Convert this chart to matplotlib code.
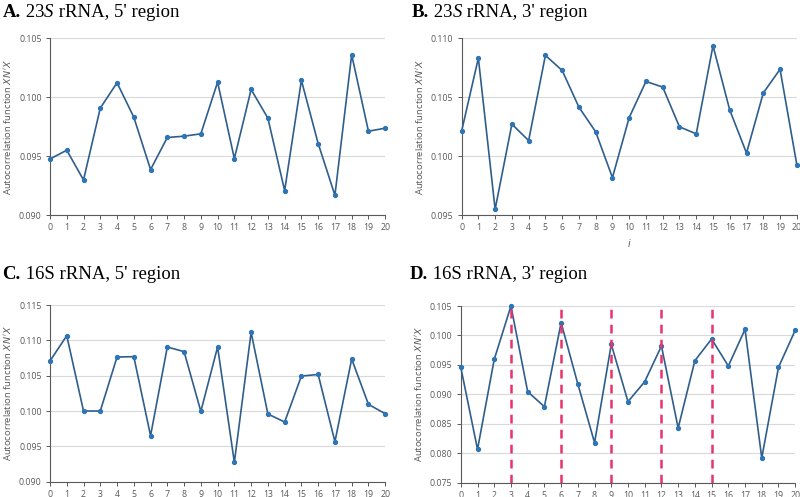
import matplotlib.pyplot as plt
import numpy as np

lags = np.arange(21)

acf_23s_5 = [0.09475, 0.09549, 0.09297, 0.09906, 0.10121, 0.09829, 0.09385, 0.09657, 0.09668, 0.09688,
             0.10126, 0.09478, 0.10064, 0.09821, 0.09207, 0.10141, 0.09606, 0.09167, 0.10358, 0.09710, 0.09736]
acf_23s_3 = [0.10210, 0.10830, 0.09548, 0.10270, 0.10131, 0.10853, 0.10725, 0.10414, 0.10205, 0.09817,
             0.10326, 0.10632, 0.10584, 0.10247, 0.10188, 0.10935, 0.10389, 0.10025, 0.10534, 0.10735, 0.09927]
acf_16s_5 = [0.10708, 0.11066, 0.10000, 0.10000, 0.10764, 0.10769, 0.09651, 0.10906, 0.10840, 0.09995,
             0.10906, 0.09274, 0.11113, 0.09958, 0.09844, 0.10495, 0.10517, 0.09566, 0.10736, 0.10094, 0.09962]
acf_16s_3 = [0.09458, 0.08066, 0.09594, 0.10500, 0.09045, 0.08791, 0.10217, 0.09175, 0.08179, 0.09849,
             0.08876, 0.09215, 0.09821, 0.08428, 0.09572, 0.09940, 0.09481, 0.10104, 0.07919, 0.09458, 0.10087]
period_marks = [3, 6, 9, 12, 15]

# letter, title pieces (text, italic), data, y ticks, axes rect, title position
panels = [
    ("A.", [(" 23", False), ("S", True), (" rRNA, 5' region", False)], acf_23s_5,
     [0.090, 0.095, 0.100, 0.105], [0.0625, 0.5674, 0.419, 0.3561], (0.003, 0.966)),
    ("B.", [(" 23", False), ("S", True), (" rRNA, 3' region", False)], acf_23s_3,
     [0.095, 0.100, 0.105, 0.110], [0.577, 0.5674, 0.419, 0.3561], (0.5145, 0.966)),
    ("C.", [(" 16S rRNA, 5' region", False)], acf_16s_5,
     [0.090, 0.095, 0.100, 0.105, 0.110, 0.115], [0.0625, 0.0308, 0.419, 0.3555], (0.003, 0.439)),
    ("D.", [(" 16S rRNA, 3' region", False)], acf_16s_3,
     [0.075, 0.080, 0.085, 0.090, 0.095, 0.100, 0.105], [0.576, 0.0288, 0.418, 0.3555], (0.5125, 0.439)),
]

plt.rcParams['mathtext.fontset'] = 'dejavusans'
fig = plt.figure(figsize=(8, 4.97), dpi=100)
renderer = fig.canvas.get_renderer()

line_color = '#2f5e8c'
gray = '#595959'
title_font = 'Liberation Serif'
title_size = 13.5

for letter, pieces, vals, yt, rect, tpos in panels:
    ax = fig.add_axes(rect)
    ax.plot(lags, vals, color=line_color, lw=1.2, marker='o', ms=2.8,
            mfc='#2e75b6', mec='#2e75b6', clip_on=False, zorder=3)
    if letter == "D.":
        for p in period_marks:
            ax.plot([p, p], [yt[0], yt[-1]], color='#e8336b', lw=1.8, ls=(0, (3.5, 2.5)), zorder=4)
    ax.set_xlim(0, 20)
    ax.set_ylim(yt[0], yt[-1])
    ax.set_xticks(lags)
    ax.set_yticks(yt)
    ax.set_yticklabels([f"{v:.3f}" for v in yt])
    ax.grid(axis='y', color='#d9d9d9', lw=0.8)
    ax.set_axisbelow(True)
    for s in ['top', 'right']:
        ax.spines[s].set_visible(False)
    for s in ['left', 'bottom']:
        ax.spines[s].set_color(gray)
        ax.spines[s].set_linewidth(0.8)
    ax.tick_params(axis='both', direction='out', length=3, width=0.7, color=gray,
                   labelsize=6.3, labelcolor=gray, pad=3)
    for lab in ax.get_xticklabels() + ax.get_yticklabels():
        lab.set_fontfamily('Open Sans')
    ax.set_ylabel("Autocorrelation function $XN'X$", fontsize=6.8, color=gray,
                  family='Open Sans', labelpad=4)
    if letter == "B.":
        ax.set_xlabel("$i$", fontsize=7, color=gray, labelpad=3)

    # title: bold letter, then pieces placed one after another
    t = fig.text(tpos[0], tpos[1], letter, fontsize=title_size, fontweight='bold',
                 family=title_font, va='baseline', ha='left')
    x = t.get_window_extent(renderer).x1 / fig.bbox.width
    for txt, ital in pieces:
        t = fig.text(x, tpos[1], txt, fontsize=title_size, family=title_font,
                     style='italic' if ital else 'normal', va='baseline', ha='left')
        x = t.get_window_extent(renderer).x1 / fig.bbox.width

fig.savefig('out.png', dpi=100)
